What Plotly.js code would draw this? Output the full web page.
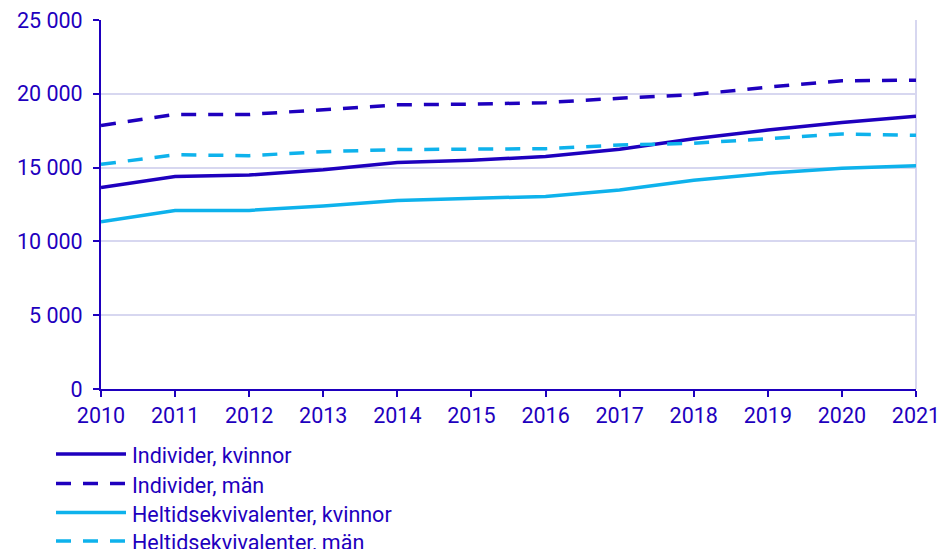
<!DOCTYPE html>
<html>
<head>
<meta charset="utf-8">
<script src="https://cdn.plot.ly/plotly-3.0.1.min.js"></script>
<style>html,body{margin:0;padding:0;background:#fff;}#chart{width:939px;height:549px;}</style>
</head>
<body>
<div id="chart"></div>
<script>
const years = [2010, 2011, 2012, 2013, 2014, 2015, 2016, 2017, 2018, 2019, 2020, 2021];
const individerKvinnor = [13650, 14400, 14500, 14850, 15350, 15500, 15750, 16250, 16950, 17550, 18050, 18480];
const individerMan = [17850, 18600, 18600, 18950, 19250, 19300, 19400, 19700, 19950, 20450, 20880, 20920];
const heltidKvinnor = [11330, 12100, 12100, 12400, 12770, 12900, 13050, 13480, 14150, 14610, 14950, 15130];
const heltidMan = [15220, 15870, 15810, 16080, 16220, 16240, 16280, 16530, 16650, 16950, 17280, 17190];
const seriesNames = ["Individer, kvinnor", "Individer, män", "Heltidsekvivalenter, kvinnor", "Heltidsekvivalenter, män"];

const dark = "#1e00be";
const light = "#0eb2ec";
const grid = "#d7d7f0";
const dashPat = "15px,12px";
const FS = 21.5;
const W = 939, H = 549;
const M = {l: 101, r: 23, t: 20, b: 160};
const pw = W - M.l - M.r, ph = H - M.t - M.b;

const series = [
  {y: individerKvinnor, color: dark, dash: "solid"},
  {y: individerMan, color: dark, dash: dashPat},
  {y: heltidKvinnor, color: light, dash: "solid"},
  {y: heltidMan, color: light, dash: dashPat}
];

const traces = series.map((s, i) => ({
  x: years, y: s.y, name: seriesNames[i], type: "scatter", mode: "lines",
  line: {color: s.color, width: 3.5, dash: s.dash}, showlegend: false, hoverinfo: "x+y"
}));

const shapes = [
  {type: "line", xref: "paper", yref: "paper", x0: 1, x1: 1, y0: 0, y1: 1, line: {color: grid, width: 2}, layer: "below"}
];
const annotations = [];
const legendY = [454, 483.5, 512.5, 541];
series.forEach((s, i) => {
  const yp = (M.t + ph - legendY[i]) / ph;
  shapes.push({type: "line", xref: "paper", yref: "paper",
    x0: (56 - M.l) / pw, x1: (126 - M.l) / pw, y0: yp, y1: yp,
    line: {color: s.color, width: 3.5, dash: s.dash}});
  annotations.push({xref: "paper", yref: "paper", x: (130 - M.l) / pw, y: yp - 1.5 / ph,
    xanchor: "left", yanchor: "middle", showarrow: false, text: seriesNames[i],
    font: {family: "Roboto, sans-serif", size: FS, color: dark}});
});

const layout = {
  width: W, height: H,
  margin: M,
  paper_bgcolor: "#fff", plot_bgcolor: "#fff",
  separators: ", ",
  font: {family: "Roboto, sans-serif", size: FS, color: dark},
  xaxis: {
    range: [2010, 2021], tickmode: "linear", tick0: 2010, dtick: 1, tickformat: "d",
    showgrid: false, zeroline: false, showline: true, linecolor: dark, linewidth: 2,
    ticks: "outside", ticklen: 6, tickwidth: 2, tickcolor: dark,
    ticklabeloverflow: "allow",
    tickfont: {family: "Roboto, sans-serif", size: FS, color: dark}
  },
  yaxis: {
    range: [0, 25000], tickmode: "linear", tick0: 0, dtick: 5000, tickformat: ",",
    showgrid: true, gridcolor: grid, gridwidth: 2, zeroline: false,
    showline: true, linecolor: dark, linewidth: 2,
    ticks: "outside", ticklen: 6, tickwidth: 2, tickcolor: dark,
    ticklabelstandoff: 6,
    tickfont: {family: "Roboto, sans-serif", size: FS, color: dark}
  },
  shapes: shapes,
  annotations: annotations
};

Plotly.newPlot("chart", traces, layout, {displayModeBar: false, staticPlot: true});
</script>
</body>
</html>
